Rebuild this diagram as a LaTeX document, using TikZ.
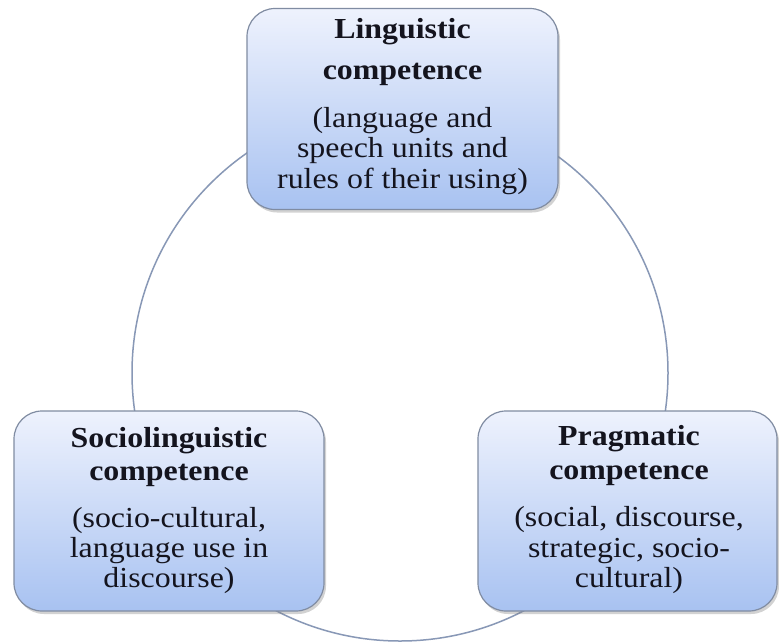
\documentclass[tikz,border=0pt]{standalone}
\usepackage{fontspec}
\setmainfont{Liberation Serif}
\usetikzlibrary{shadows}
\definecolor{boxtop}{RGB}{238,242,253}
\definecolor{boxbot}{RGB}{168,194,241}
\definecolor{boxline}{RGB}{128,140,162}
\definecolor{ringcol}{RGB}{136,152,182}
\definecolor{txt}{RGB}{20,20,30}
\newcommand\widetext[1]{\scalebox{1.1}[1]{#1}}
\tikzset{
  compbox/.style={draw=boxline, line width=1.2pt, rounded corners=28pt,
    top color=boxtop, bottom color=boxbot, inner sep=0pt,
    drop shadow={opacity=0.35, shadow xshift=2pt, shadow yshift=-3pt}},
  titletext/.style={anchor=base, inner sep=0pt, text=txt,
    font=\fontsize{29pt}{33pt}\selectfont\bfseries},
  bodytext/.style={anchor=base, inner sep=0pt, text=txt,
    font=\fontsize{29pt}{30pt}\selectfont},
  ring/.style={draw=ringcol, line width=1.5pt}
}
\begin{document}
\begin{tikzpicture}[x=1pt,y=-1pt]
\useasboundingbox (0,0) rectangle (779,643);
\fill[white] (0,0) rectangle (779,643);
\draw[ring] (400,373) circle[radius=268pt];
% boxes
\node[compbox, minimum width=311pt, minimum height=201pt] (ling) at (402.5,109) {};
\node[compbox, minimum width=310pt, minimum height=200pt] (socio) at (169,511) {};
\node[compbox, minimum width=299pt, minimum height=200pt] (prag) at (627.5,511) {};
% top box text
\node[titletext] (lingA) at (402.5,38) {\widetext{Linguistic}};
\node[titletext] (lingB) at (402.5,79) {\widetext{competence}};
\node[bodytext] (lingC) at (402.5,127) {\widetext{(language and}};
\node[bodytext] (lingD) at (402.5,157) {\widetext{speech units and}};
\node[bodytext] (lingE) at (402.5,188) {\widetext{rules of their using)}};
% left box text
\node[titletext] (socA) at (169,447) {\widetext{Sociolinguistic}};
\node[titletext] (socB) at (169,480) {\widetext{competence}};
\node[bodytext] (socC) at (169,527) {\widetext{(socio-cultural,}};
\node[bodytext] (socD) at (169,557) {\widetext{language use in}};
\node[bodytext] (socE) at (169,587) {\widetext{discourse)}};
% right box text
\node[titletext] (prA) at (629,445) {\widetext{Pragmatic}};
\node[titletext] (prB) at (629,479) {\widetext{competence}};
\node[bodytext] (prC) at (629,526) {\widetext{(social, discourse,}};
\node[bodytext] (prD) at (629,557) {\widetext{strategic, socio-}};
\node[bodytext] (prE) at (629,587) {\widetext{cultural)}};
\end{tikzpicture}
\end{document}
